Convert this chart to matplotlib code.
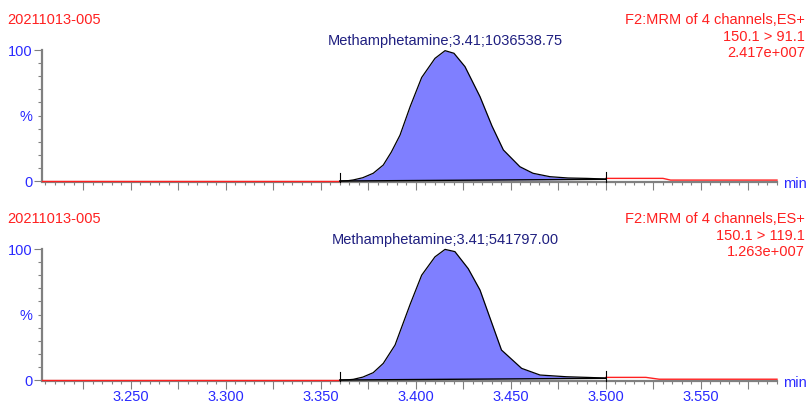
import numpy as np
import matplotlib
matplotlib.use("Agg")
import matplotlib.pyplot as plt
from matplotlib.ticker import MultipleLocator, FixedLocator, FuncFormatter

W, H = 807, 403

sample = "20211013-005"
func_line = "F2:MRM of 4 channels,ES+"
transitions = ["150.1 > 91.1", "150.1 > 119.1"]
intensities = ["2.417e+007", "1.263e+007"]
peak_labels = ["Methamphetamine;3.41;1036538.75", "Methamphetamine;3.41;541797.00"]
apex_rt = [3.4155, 3.4155]

# integrated peak (time in min, intensity in %)
top_t = [3.360, 3.3645, 3.367, 3.372, 3.3775, 3.3828, 3.387, 3.3916, 3.397, 3.403,
         3.410, 3.4153, 3.420, 3.4258, 3.4337, 3.440, 3.446, 3.4547, 3.4616, 3.4705,
         3.480, 3.490, 3.500]
top_v = [0.0, 0.3, 0.8, 2.5, 5.9, 12.2, 22.0, 35.0, 57.0, 79.0,
         93.6, 99.5, 97.5, 87.3, 64.4, 42.0, 23.7, 10.9, 5.9, 3.3,
         2.3, 2.0, 1.5]
bot_t = [3.360, 3.3645, 3.367, 3.372, 3.3775, 3.3828, 3.389, 3.3916, 3.397, 3.403,
         3.410, 3.4153, 3.4205, 3.4275, 3.4337, 3.445, 3.4556, 3.4653, 3.479,
         3.490, 3.500]
bot_v = [0.0, 0.2, 0.5, 2.2, 5.6, 12.7, 26.7, 36.9, 58.0, 80.0,
         94.0, 99.7, 98.0, 85.0, 68.7, 22.9, 8.9, 3.8, 2.5,
         2.0, 1.5]
peak_t = [top_t, bot_t]
peak_v = [top_v, bot_v]

peak_start = 3.36
peak_end = 3.50
end_base = [1.3, 1.3]

# trace outside the peak
pre_t = [3.2032, 3.360]
pre_v = [0.0, 0.0]
post_t = [[3.500, 3.530, 3.534, 3.590], [3.500, 3.521, 3.528, 3.590]]
post_v = [[2.0, 2.0, 0.7, 0.7], [2.0, 2.0, 0.6, 0.6]]

xmin, xmax = 3.2032, 3.590

RED = "#ff2020"
BLUE = "#2a2aff"
NAVY = "#1f1f80"
GREY = "#808080"
FILL = "#7f7fff"
FS = 10.5

plt.rcParams["font.family"] = ["Liberation Sans", "DejaVu Sans"]

fig = plt.figure(figsize=(W / 100, H / 100), dpi=100)


def fx(x):
    return x / W


def fy(y):
    return 1 - y / H


panels = [(50, 182), (249, 381)]

for i, (ytop, ybot) in enumerate(panels):
    ax = fig.add_axes([fx(42), fy(ybot), fx(777 - 42), (ybot - ytop) / H])
    ax.set_xlim(xmin, xmax)
    ax.set_ylim(-0.76, 100)
    ax.set_facecolor("none")

    for s in ["top", "right"]:
        ax.spines[s].set_visible(False)
    for s in ["left", "bottom"]:
        ax.spines[s].set_color(GREY)
        ax.spines[s].set_linewidth(1.6)
    ax.spines["left"].set_bounds(0, 100)

    # x ticks
    ax.xaxis.set_major_locator(MultipleLocator(0.025))
    ax.xaxis.set_minor_locator(MultipleLocator(0.005))
    if i == 1:
        ax.xaxis.set_major_formatter(FuncFormatter(
            lambda v, p: f"{v:.3f}" if abs(round(v / 0.05) * 0.05 - v) < 1e-6 else ""))
    else:
        ax.set_xticklabels([])
    ax.tick_params(axis="x", which="major", length=6, width=0.8, color=GREY,
                   labelsize=FS, labelcolor=BLUE, pad=0.5)
    ax.tick_params(axis="x", which="minor", length=2.5, width=0.8, color=GREY)

    # y ticks
    ax.yaxis.set_major_locator(FixedLocator([0, 50, 100]))
    ax.set_yticklabels(["0", "%", "100"])
    ax.yaxis.set_minor_locator(MultipleLocator(10))
    ax.tick_params(axis="y", which="major", length=6, width=0.8, color=GREY,
                   labelsize=FS, labelcolor=BLUE, pad=1)
    ax.tick_params(axis="y", which="minor", length=3, width=0.8, color=GREY)
    ax.yaxis.get_major_ticks()[1].tick1line.set_markersize(3)

    # trace outside the peak
    ax.plot(pre_t, pre_v, color=RED, lw=1.0, clip_on=False, zorder=3)
    ax.plot(post_t[i], post_v[i], color=RED, lw=1.0, clip_on=False, zorder=3)

    # integrated peak
    t = np.array(peak_t[i])
    v = np.array(peak_v[i])
    base = np.interp(t, [peak_start, peak_end], [0.0, end_base[i]])
    ax.fill_between(t, v, base, color=FILL, lw=0, zorder=2, clip_on=False)
    ax.plot(t, v, color="black", lw=0.9, zorder=4, clip_on=False)
    ax.plot([peak_start, peak_end], [0.0, end_base[i]], color="black", lw=1.0,
            zorder=4, clip_on=False)
    ax.plot([peak_start, peak_start], [-1, 6], color="black", lw=0.8, zorder=4, clip_on=False)
    ax.plot([peak_end, peak_end], [-1, 7], color="black", lw=0.8, zorder=4, clip_on=False)

    # peak annotation
    ax.text(apex_rt[i], 107, peak_labels[i], color=NAVY, fontsize=FS,
            ha="center", va="center", clip_on=False)

    # header texts
    fig.text(fx(7), fy(ytop - 30), sample, color=RED, fontsize=FS, ha="left", va="center")
    fig.text(fx(805), fy(ytop - 30), func_line, color=RED, fontsize=FS, ha="right", va="center")
    fig.text(fx(805), fy(ytop - 13), transitions[i], color=RED, fontsize=FS, ha="right", va="center")
    fig.text(fx(805), fy(ytop + 3), intensities[i], color=RED, fontsize=FS, ha="right", va="center")
    fig.text(fx(783), fy(ybot + 2), "min", color=BLUE, fontsize=FS, ha="left", va="center")

fig.savefig("out.png", dpi=100)
